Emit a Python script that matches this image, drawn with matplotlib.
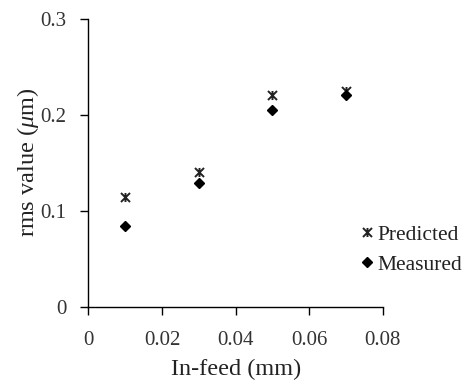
import numpy as np
import matplotlib
matplotlib.use('Agg')
import matplotlib.pyplot as plt
from matplotlib.path import Path

infeed = [0.01, 0.03, 0.05, 0.07]
predicted = [0.114, 0.140, 0.220, 0.225]
measured = [0.084, 0.129, 0.205, 0.220]

plt.rcParams['font.family'] = ['Liberation Serif', 'DejaVu Serif']
plt.rcParams['mathtext.fontset'] = 'custom'
plt.rcParams['mathtext.it'] = 'Liberation Serif:italic'
plt.rcParams['mathtext.rm'] = 'Liberation Serif'

# excel style star: an x with a vertical bar
star = Path([(-1, -1), (1, 1), (-1, 1), (1, -1), (0, -1), (0, 1)],
            [Path.MOVETO, Path.LINETO, Path.MOVETO, Path.LINETO,
             Path.MOVETO, Path.LINETO])

fig = plt.figure(figsize=(4.68, 3.88), dpi=100)
ax = fig.add_axes([0.189, 0.209, 0.629, 0.743])

ax.plot(infeed, predicted, linestyle='none', marker=star, markersize=6.5,
        markeredgewidth=1.4, color='#222222', label='Predicted')
ax.plot(infeed, measured, linestyle='none', marker='D', markersize=5,
        color='black', label='Measured')

ax.set_xlim(0, 0.08)
ax.set_ylim(0, 0.3)
ax.set_xticks([0, 0.02, 0.04, 0.06, 0.08])
ax.set_xticklabels(['0', '0.02', '0.04', '0.06', '0.08'])
ax.set_yticks([0, 0.1, 0.2, 0.3])
ax.set_yticklabels(['0', '0.1', '0.2', '0.3'])
ax.tick_params(direction='out', length=6, width=1, labelsize=15, pad=11,
               colors='black', labelcolor='#333333')
ax.tick_params(axis='y', pad=10)
for s in ['top', 'right']:
    ax.spines[s].set_visible(False)
for s in ['left', 'bottom']:
    ax.spines[s].set_linewidth(1)

ax.set_xlabel('In-feed (mm)', fontsize=17.5, labelpad=7, color='#222222')
ax.set_ylabel(r'rms value ($\mu$m)', fontsize=17.5, labelpad=-1, color='#222222')

fig.legend(loc='upper left', bbox_to_anchor=(0.755, 0.443), frameon=False,
           fontsize=15.5, handlelength=0.5, handletextpad=0.2, labelspacing=0.45,
           borderaxespad=0, labelcolor='#222222')

fig.savefig('out.png', dpi=100)
